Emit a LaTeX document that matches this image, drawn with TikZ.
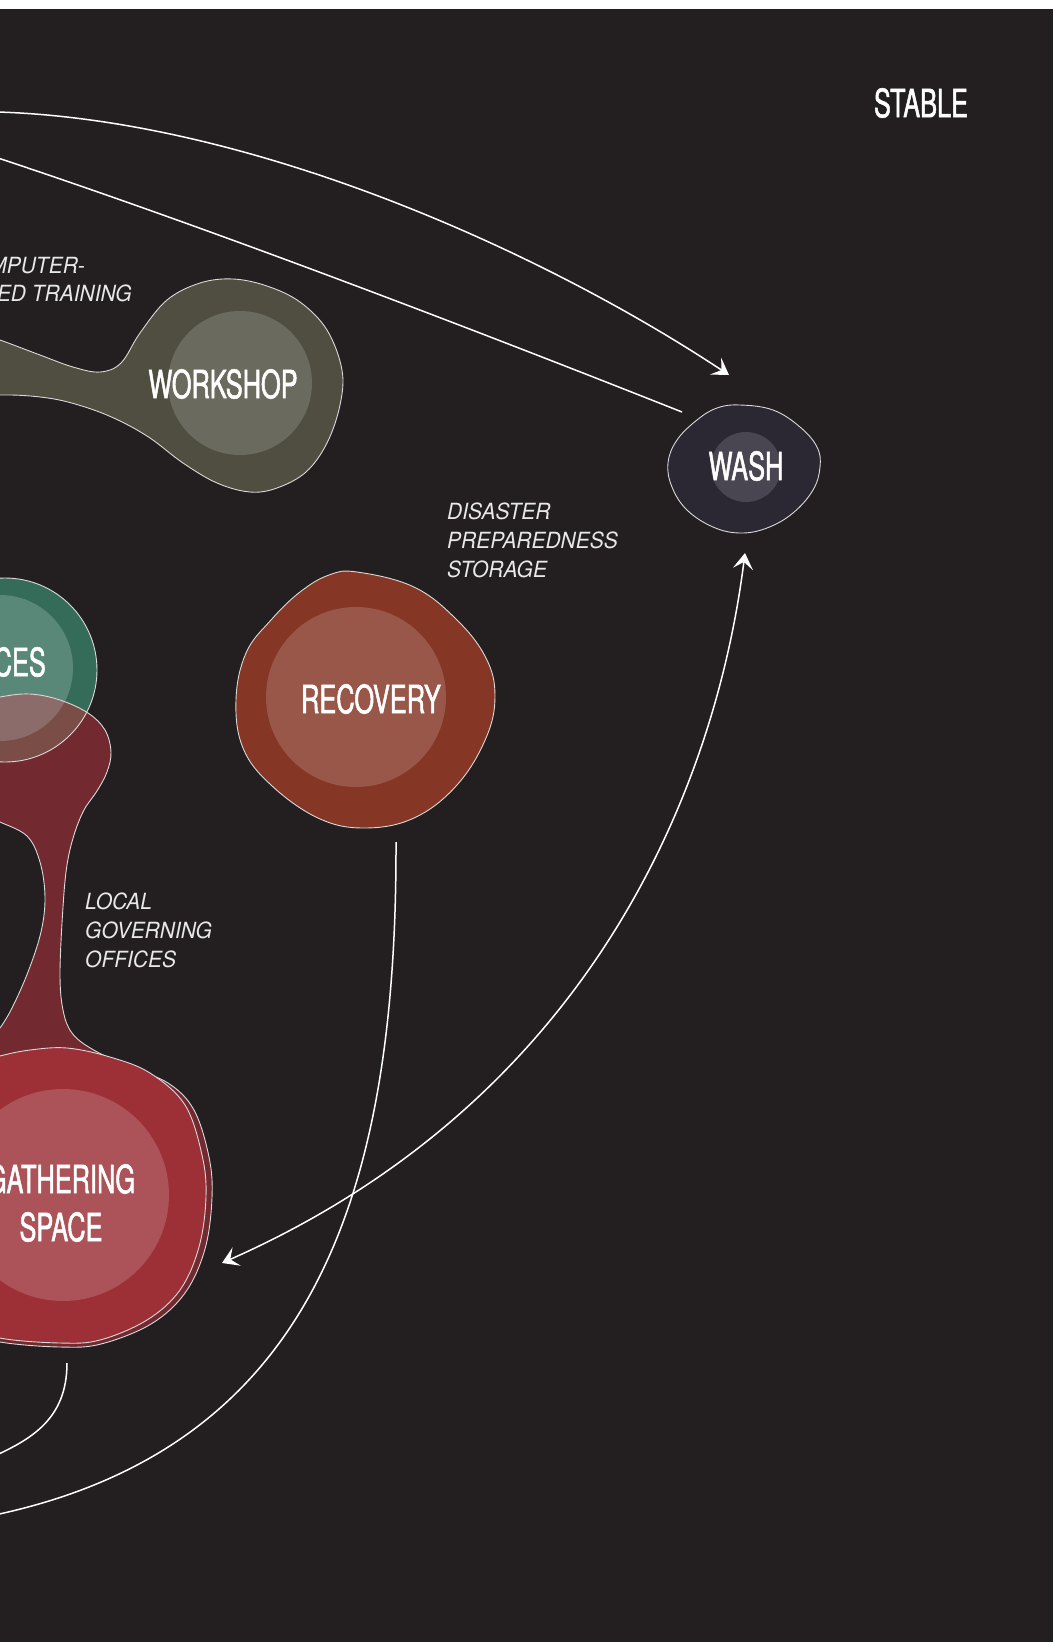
\documentclass[tikz,border=0pt]{standalone}
\usepackage{fontspec}
\usetikzlibrary{arrows.meta}
\newfontfamily\lblfont[FakeStretch=0.65,FakeBold=1.3]{TeX Gyre Heros}
\newfontfamily\notefont[FakeStretch=0.94]{TeX Gyre Heros}
\definecolor{bg}{HTML}{231F20}
\definecolor{wsout}{HTML}{4F4E41}
\definecolor{wsin}{HTML}{6A6B5E}
\definecolor{washout}{HTML}{2B2733}
\definecolor{washin}{HTML}{4A4651}
\definecolor{recout}{HTML}{863624}
\definecolor{recin}{HTML}{985749}
\definecolor{grnout}{HTML}{356B59}
\definecolor{grnin}{HTML}{5A8878}
\definecolor{redd}{HTML}{722A30}
\definecolor{ovlA}{HTML}{7B4D47}
\definecolor{ovlB}{HTML}{8C6C6A}
\definecolor{gath}{HTML}{9C3036}
\definecolor{gathin}{HTML}{AB5358}
\definecolor{linec}{HTML}{D9D9D9}
\definecolor{notec}{HTML}{E8E8E8}
\begin{document}
\begin{tikzpicture}[x=1pt,y=-1pt,
  lbl/.style={text=white,font=\lblfont\fontsize{39}{48}\selectfont,inner sep=0pt,align=center},
  notelbl/.style={text=notec,font=\notefont\itshape\fontsize{22.3}{29}\selectfont,inner sep=0pt,align=left},
  outl/.style={draw=linec,line width=0.9pt},
  conn/.style={draw=white,line width=1.5pt},
  conntip/.style={-{Stealth[length=16pt,width=20pt,inset=7pt]}},
  conntwo/.style={{Stealth[length=16pt,width=20pt,inset=7pt]}-{Stealth[length=16pt,width=20pt,inset=7pt]}}
]
\useasboundingbox (0,0) rectangle (1053,1642);
\fill[white] (0,0) rectangle (1053,9);
\fill[bg] (0,9) rectangle (1053,1642);
\begin{scope}
\clip (0,9) rectangle (1053,1642);

% workshop blob
\def\wspath{plot[smooth cycle, tension=0.6] coordinates {(-60,330) (-20,334) (0,340) (40,355) (73,367) (100,372) (121,363) (140,333) (167,300) (200,283) (233,279) (267,286) (300,302) (327,330) (342,370) (340,405) (327,443) (306,472) (277,488) (250,492) (217,483) (183,463) (150,438) (118,420) (85,407) (48,398) (0,395) (-60,400)}}
\fill[wsout] \wspath;
\fill[wsin] (240,383) circle[radius=72pt];
\draw[outl] \wspath;

% wash blob
\def\washpath{plot[smooth cycle, tension=0.65] coordinates {(740,405) (773,410) (800,427) (817,447) (820,467) (813,490) (793,513) (767,528) (740,533) (713,527) (687,510) (672,487) (668,463) (677,440) (697,420) (717,408)}}
\fill[washout] \washpath;
\fill[washin] (746,467) circle[radius=35pt];
\draw[outl] \washpath;

% recovery blob
\def\recpath{plot[smooth cycle, tension=0.65] coordinates {(357,572) (414,587) (457,620) (486,658) (495,696) (486,738) (457,785) (414,818) (364,828) (318,818) (271,785) (243,748) (236,700) (246,653) (271,620) (300,592) (329,575)}}
\fill[recout] \recpath;
\fill[recin] (356,697) circle[radius=90pt];
\draw[outl] \recpath;

% green blob
\fill[grnout] (5,670) circle[radius=92pt];
\fill[grnin] (0,668) circle[radius=73pt];

% dark red governing blob
\def\redpath{plot[smooth cycle, tension=0.6] coordinates {(-40,706) (0,697) (30,694) (60,700) (88,713) (105,730) (111,752) (107,772) (97,791) (84,810) (74,835) (67,865) (63,907) (60,973) (63,1010) (72,1033) (92,1049) (127,1066) (168,1083) (194,1110) (209,1157) (212,1198) (205,1249) (185,1293) (151,1324) (101,1344) (60,1347) (0,1342) (-40,1330) (-60,1000)}}
\fill[redd] \redpath;
\begin{scope}
\clip \redpath;
\fill[ovlA] (5,670) circle[radius=92pt];
\fill[ovlB] (0,668) circle[radius=73pt];
\end{scope}
% hole
\fill[bg] plot[smooth, tension=0.6] coordinates {(-5,820) (0,822) (27,836) (40,862) (45,897) (41,932) (28,972) (12,1008) (0,1028) (-5,1032)} -- (-20,1032) -- (-20,820) -- cycle;
\draw[outl] plot[smooth, tension=0.6] coordinates {(-5,820) (0,822) (27,836) (40,862) (45,897) (41,932) (28,972) (12,1008) (0,1028) (-5,1032)};
\draw[outl] \redpath;
\draw[outl] (5,670) circle[radius=92pt];

% gathering blob
\def\gathpath{plot[smooth cycle, tension=0.6] coordinates {(-30,1065) (0,1056) (30,1050) (67,1048) (110,1057) (150,1073) (185,1105) (202,1155) (206,1197) (199,1247) (180,1290) (147,1320) (100,1340) (60,1343) (0,1338) (-30,1325) (-60,1200)}}
\fill[gath] \gathpath;
\fill[gathin] (63,1195) circle[radius=106pt];
\draw[outl] \gathpath;

% labels
\node[lbl] (stable) at (921,103) {STABLE};
\node[lbl] (workshop) at (223,384) {WORKSHOP};
\node[lbl] (wash) at (746,466) {WASH};
\node[lbl] (recovery) at (371,699) {RECOVERY};
\node[lbl, anchor=east] (ces) at (46,662) {CES};
\node[lbl] (gathering) at (61,1203) {GATHERING\\SPACE};

\node[notelbl, anchor=base east] (comp1) at (85,273) {MPUTER-};
\node[notelbl, anchor=base east] (comp2) at (132,301) {ED TRAINING};
\node[notelbl, anchor=north west] (disaster) at (447,503) {DISASTER\\PREPAREDNESS\\STORAGE};
\node[notelbl, anchor=north west] (local) at (85,893) {LOCAL\\GOVERNING\\OFFICES};

% connector end points
\coordinate (srcA) at (-2,112);
\coordinate (srcB) at (-2,158);
\coordinate (washtopin) at (729,375);
\coordinate (washleft) at (682,412);
\coordinate (washbot) at (745,553);
\coordinate (gathright) at (222,1263);
\coordinate (recbot) at (396,842);
\coordinate (recend) at (-10,1516);
\coordinate (gathbot) at (67,1363);
\coordinate (gathend) at (-10,1458);

\draw[conn,conntip] (srcA) .. controls (250,120) and (540,250) .. (washtopin);
\draw[conn] (srcB) .. controls (200,225) and (450,320) .. (washleft);
\draw[conn,conntwo] (washbot) .. controls (715,790) and (590,1100) .. (gathright);
\draw[conn] (recbot) .. controls (397,1200) and (310,1450) .. (recend);
\draw[conn] (gathbot) .. controls (67,1420) and (30,1440) .. (gathend);
\end{scope}
\end{tikzpicture}
\end{document}
